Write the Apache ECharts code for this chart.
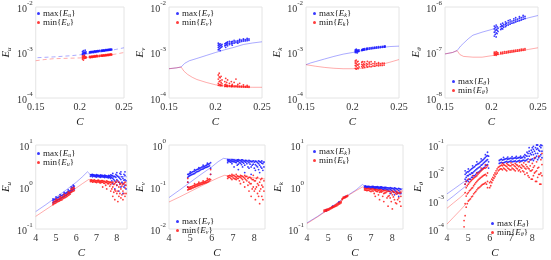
<!DOCTYPE html>
<html><head><meta charset="utf-8">
<script src="https://cdn.jsdelivr.net/npm/echarts@6/dist/echarts.min.js"></script>
<style>html,body{margin:0;padding:0;background:#fff}#c{width:551px;height:260px}</style>
</head><body><div id="c"></div>
<script>
// ---------- DATA ----------
// Panel 1: E_u vs C (small C)
const u1LineMax = [[0.152,7.7e-4],[0.17,8.0e-4],[0.19,8.5e-4],[0.2,8.9e-4],[0.21,9.4e-4],[0.22,1.0e-3],[0.23,1.08e-3],[0.24,1.16e-3],[0.25,1.27e-3]];
const u1LineMin = [[0.15,6.6e-4],[0.16,7.0e-4],[0.17,7.3e-4],[0.19,7.5e-4],[0.2,7.6e-4],[0.22,8.1e-4],[0.24,9.2e-4],[0.25,1.0e-3]];
const u1MaxCols = [[0.203,9.0e-4,9.6e-4,1.05e-3],[0.204,9.3e-4,1.0e-3,1.1e-3],[0.205,8.6e-4,9.5e-4,1.02e-3],[0.206,9.4e-4,1.0e-3,1.12e-3],[0.207,9.6e-4,1.03e-3],[0.211,9.8e-4,1.03e-3],[0.212,1.0e-3,1.05e-3],[0.213,9.9e-4,1.04e-3],[0.214,1.01e-3,1.06e-3],[0.215,1.0e-3,1.05e-3],[0.216,1.02e-3,1.07e-3],[0.217,1.03e-3,1.08e-3],[0.218,1.02e-3,1.07e-3],[0.219,1.04e-3,1.09e-3],[0.22,1.05e-3,1.1e-3],[0.221,1.04e-3,1.09e-3],[0.222,1.06e-3,1.11e-3],[0.224,1.06e-3,1.11e-3],[0.225,1.08e-3,1.13e-3],[0.226,1.07e-3,1.12e-3],[0.227,1.09e-3,1.14e-3],[0.228,1.08e-3,1.13e-3],[0.229,1.1e-3,1.15e-3],[0.23,1.1e-3,1.15e-3],[0.231,1.11e-3,1.16e-3],[0.232,1.12e-3,1.17e-3],[0.233,1.12e-3,1.17e-3],[0.234,1.13e-3,1.18e-3],[0.235,1.13e-3,1.18e-3],[0.236,1.14e-3,1.19e-3]];
const u1MinCols = [[0.203,7.2e-4,7.8e-4,8.4e-4],[0.204,6.8e-4,7.6e-4,8.2e-4],[0.205,7.4e-4,8.0e-4,8.8e-4],[0.206,7.5e-4,8.1e-4],[0.207,7.6e-4,8.0e-4],[0.211,7.8e-4,8.2e-4],[0.212,7.7e-4,8.1e-4],[0.213,7.9e-4,8.3e-4],[0.214,7.8e-4,8.2e-4],[0.215,8.0e-4,8.4e-4],[0.216,7.9e-4,8.3e-4],[0.217,8.1e-4,8.5e-4],[0.218,8.0e-4,8.4e-4],[0.219,8.2e-4,8.6e-4],[0.22,8.1e-4,8.5e-4],[0.222,8.2e-4,8.6e-4],[0.224,8.3e-4,8.7e-4],[0.225,8.4e-4,8.8e-4],[0.226,8.3e-4,8.7e-4],[0.227,8.5e-4,8.9e-4],[0.228,8.4e-4,8.8e-4],[0.229,8.6e-4,9.0e-4],[0.23,8.5e-4,8.9e-4],[0.231,8.7e-4,9.1e-4],[0.232,8.6e-4,9.0e-4],[0.233,8.8e-4,9.2e-4],[0.234,8.7e-4,9.1e-4],[0.235,8.9e-4,9.3e-4],[0.236,8.8e-4,9.2e-4]];

// Panel 2: E_v vs C
const v1LineMax = [[0.15,4.4e-4],[0.158,4.6e-4],[0.163,4.8e-4],[0.167,5.8e-4],[0.172,6.6e-4],[0.18,7.4e-4],[0.19,8.6e-4],[0.2,1.0e-3],[0.21,1.15e-3],[0.22,1.3e-3],[0.23,1.5e-3],[0.24,1.62e-3],[0.25,1.72e-3]];
const v1LineMin = [[0.15,4.4e-4],[0.158,4.6e-4],[0.163,4.8e-4],[0.166,3.9e-4],[0.17,3.3e-4],[0.175,2.85e-4],[0.18,2.55e-4],[0.19,2.2e-4],[0.2,1.95e-4],[0.21,1.85e-4],[0.22,1.78e-4],[0.23,1.74e-4],[0.24,1.72e-4],[0.25,1.72e-4]];
const v1MaxCols = [[0.203,1.15e-3,1.3e-3,1.45e-3,1.6e-3],[0.204,1.2e-3,1.35e-3,1.5e-3],[0.205,1.1e-3,1.25e-3,1.4e-3,1.55e-3],[0.206,1.3e-3,1.45e-3],[0.207,1.35e-3,1.5e-3],[0.21,1.4e-3,1.55e-3],[0.211,1.3e-3,1.45e-3,1.6e-3],[0.212,1.5e-3,1.65e-3],[0.213,1.4e-3,1.55e-3,1.7e-3],[0.215,1.5e-3,1.6e-3,1.75e-3],[0.217,1.55e-3,1.7e-3],[0.218,1.45e-3,1.6e-3,1.75e-3],[0.22,1.6e-3,1.72e-3,1.85e-3],[0.222,1.65e-3,1.78e-3],[0.224,1.6e-3,1.7e-3,1.82e-3],[0.226,1.7e-3,1.85e-3,1.95e-3],[0.228,1.75e-3,1.88e-3],[0.23,1.78e-3,1.9e-3,2.0e-3],[0.232,1.8e-3,1.92e-3],[0.234,1.82e-3,1.95e-3,2.05e-3],[0.236,1.85e-3,1.98e-3]];
const v1MinCols = [[0.203,1.9e-4,2.1e-4,2.6e-4,3.2e-4],[0.204,1.95e-4,2.3e-4,2.9e-4,3.5e-4],[0.205,1.85e-4,2.0e-4,2.4e-4,2.8e-4],[0.206,1.9e-4,2.2e-4,3.0e-4],[0.207,1.85e-4,2.05e-4,2.5e-4],[0.21,1.8e-4,1.95e-4,2.3e-4],[0.211,1.82e-4,2.0e-4,2.7e-4],[0.212,1.8e-4,1.9e-4,2.2e-4],[0.213,1.78e-4,1.9e-4,2.5e-4],[0.215,1.8e-4,1.88e-4,2.1e-4],[0.217,1.77e-4,1.87e-4,2.3e-4],[0.218,1.78e-4,1.86e-4,2.0e-4],[0.22,1.76e-4,1.85e-4,2.2e-4],[0.222,1.77e-4,1.85e-4,2.6e-4],[0.224,1.75e-4,1.84e-4,2.0e-4],[0.226,1.75e-4,1.83e-4,2.1e-4],[0.228,1.74e-4,1.82e-4],[0.23,1.74e-4,1.82e-4,1.95e-4],[0.232,1.73e-4,1.81e-4],[0.234,1.73e-4,1.8e-4,1.9e-4],[0.236,1.72e-4,1.8e-4]];

// Panel 3: E_k vs C
const k1LineMax = [[0.15,5.4e-4],[0.155,5.9e-4],[0.16,6.3e-4],[0.17,7.2e-4],[0.18,8.2e-4],[0.19,9.2e-4],[0.2,1.0e-3],[0.21,1.1e-3],[0.22,1.2e-3],[0.23,1.28e-3],[0.24,1.35e-3],[0.25,1.38e-3]];
const k1LineMin = [[0.15,5.4e-4],[0.16,5.0e-4],[0.17,4.7e-4],[0.18,4.5e-4],[0.19,4.4e-4],[0.2,4.4e-4],[0.21,4.5e-4],[0.22,4.8e-4],[0.23,5.4e-4],[0.24,6.1e-4],[0.25,7.0e-4]];
const k1MaxCols = [[0.203,1.0e-3,1.07e-3,1.14e-3],[0.204,1.02e-3,1.1e-3,1.18e-3],[0.205,0.98e-3,1.05e-3,1.12e-3],[0.206,1.04e-3,1.12e-3],[0.207,1.06e-3,1.14e-3],[0.21,1.1e-3,1.16e-3],[0.211,1.12e-3,1.18e-3],[0.212,1.13e-3,1.2e-3],[0.213,1.14e-3,1.21e-3],[0.215,1.16e-3,1.23e-3],[0.216,1.18e-3,1.24e-3],[0.218,1.19e-3,1.26e-3],[0.22,1.21e-3,1.28e-3],[0.222,1.22e-3,1.29e-3],[0.224,1.24e-3,1.31e-3],[0.226,1.25e-3,1.32e-3],[0.228,1.27e-3,1.34e-3],[0.23,1.28e-3,1.35e-3],[0.232,1.3e-3,1.37e-3],[0.234,1.31e-3,1.38e-3],[0.235,1.32e-3,1.39e-3]];
const k1MinCols = [[0.203,4.5e-4,5.2e-4,5.9e-4,6.5e-4],[0.204,4.3e-4,5.0e-4,5.7e-4,6.8e-4],[0.205,4.6e-4,5.4e-4,6.2e-4],[0.206,4.4e-4,5.3e-4,6.4e-4],[0.207,4.8e-4,5.6e-4],[0.21,4.9e-4,5.5e-4,6.1e-4],[0.211,4.6e-4,5.3e-4,6.3e-4],[0.212,5.0e-4,5.6e-4],[0.213,4.7e-4,5.4e-4,6.2e-4],[0.215,5.1e-4,5.7e-4],[0.216,4.8e-4,5.5e-4,6.4e-4],[0.218,5.0e-4,5.6e-4,6.1e-4],[0.22,4.9e-4,5.5e-4,6.3e-4],[0.222,5.1e-4,5.7e-4],[0.224,5.0e-4,5.6e-4,6.2e-4],[0.226,5.2e-4,5.7e-4],[0.228,5.1e-4,5.6e-4,6.0e-4],[0.23,5.2e-4,5.7e-4],[0.232,5.2e-4,5.8e-4],[0.234,5.3e-4,5.8e-4]];

// Panel 4: E_theta vs C
const t1LineMax = [[0.15,9.3e-8],[0.158,1.0e-7],[0.163,1.1e-7],[0.167,1.4e-7],[0.17,1.6e-7],[0.175,2.0e-7],[0.18,2.4e-7],[0.19,2.8e-7],[0.2,3.2e-7],[0.21,3.7e-7],[0.22,4.3e-7],[0.23,5.0e-7],[0.24,5.8e-7],[0.25,6.5e-7]];
const t1LineMin = [[0.15,9.3e-8],[0.158,1.0e-7],[0.163,1.1e-7],[0.166,9.0e-8],[0.17,8.2e-8],[0.18,7.9e-8],[0.19,7.9e-8],[0.2,8.5e-8],[0.21,9.2e-8],[0.22,1.0e-7],[0.23,1.08e-7],[0.24,1.17e-7],[0.25,1.27e-7]];
const t1MaxCols = [[0.203,2.3e-7,2.8e-7,3.3e-7,3.8e-7],[0.204,2.5e-7,3.0e-7,3.6e-7],[0.205,2.2e-7,2.7e-7,3.2e-7,4.0e-7],[0.206,2.6e-7,3.1e-7,3.7e-7],[0.207,2.9e-7,3.4e-7],[0.21,3.2e-7,3.7e-7,4.2e-7],[0.211,3.4e-7,3.9e-7],[0.212,3.3e-7,3.8e-7,4.4e-7],[0.213,3.6e-7,4.1e-7],[0.215,3.7e-7,4.2e-7,4.7e-7],[0.216,3.9e-7,4.4e-7],[0.218,4.0e-7,4.5e-7,5.0e-7],[0.22,4.2e-7,4.7e-7,5.2e-7],[0.222,4.4e-7,4.9e-7],[0.224,4.5e-7,5.0e-7,5.5e-7],[0.226,4.7e-7,5.2e-7,5.8e-7],[0.228,4.9e-7,5.4e-7],[0.23,5.0e-7,5.6e-7,6.1e-7],[0.232,5.2e-7,5.8e-7],[0.234,5.4e-7,6.0e-7,6.5e-7],[0.236,5.6e-7,6.2e-7]];
const t1MinCols = [[0.203,8.8e-8,9.5e-8,1.02e-7],[0.204,9.0e-8,9.8e-8],[0.205,8.7e-8,9.4e-8,1.05e-7],[0.206,9.2e-8,1.0e-7],[0.207,9.1e-8,9.8e-8],[0.21,9.4e-8,1.0e-7],[0.212,9.5e-8,1.02e-7],[0.214,9.7e-8,1.04e-7],[0.216,9.8e-8,1.05e-7],[0.218,1.0e-7,1.07e-7],[0.22,1.01e-7,1.08e-7],[0.222,1.03e-7,1.1e-7],[0.224,1.04e-7,1.11e-7],[0.226,1.06e-7,1.13e-7],[0.228,1.07e-7,1.14e-7],[0.23,1.09e-7,1.16e-7],[0.232,1.1e-7,1.18e-7],[0.234,1.12e-7,1.19e-7],[0.236,1.13e-7,1.21e-7]];

// Panel 5: E_u vs C (large C)
const u2LineMax = [[4,0.26],[4.5,0.38],[5,0.57],[5.5,0.85],[6,1.3],[6.3,1.75],[6.55,2.3],[6.62,2.55],[6.68,2.0],[7,1.9],[7.5,1.85],[8,1.8],[8.5,1.75]];
const u2LineMin = [[4,0.2],[4.5,0.29],[5,0.42],[5.5,0.62],[6,0.95],[6.3,1.2],[6.6,1.5],[7,1.42],[7.5,1.38],[8,1.3],[8.5,1.25]];
const u2MaxCols = [[4.85,0.42,0.47,0.52],[4.9,0.44,0.5],[4.95,0.45,0.51],[5.0,0.46,0.52,0.58],[5.05,0.48,0.55],[5.1,0.5,0.56],[5.15,0.51,0.58],[5.2,0.52,0.6,0.66],[5.25,0.55,0.62],[5.3,0.56,0.63],[5.35,0.58,0.66],[5.4,0.6,0.68,0.74],[5.45,0.62,0.7],[5.5,0.64,0.72],[5.55,0.67,0.75],[5.6,0.7,0.78,0.85],[5.65,0.72,0.8],[5.7,0.74,0.82],[5.75,0.8,0.9,1.0],[5.8,0.84,0.95],[5.85,0.88,1.0,1.1],[5.9,0.9,1.05],[6.7,1.8,1.95],[6.75,1.85,1.98],[6.8,1.75,1.9,2.0],[6.85,1.82,1.95],[6.9,1.8,1.92],[6.95,1.76,1.88],[7.0,1.72,1.85,1.98],[7.05,1.8,1.92],[7.1,1.78,1.9],[7.15,1.74,1.86],[7.2,1.7,1.82,1.95],[7.25,1.76,1.9],[7.3,1.75,1.88],[7.35,1.72,1.84],[7.4,1.68,1.8,1.92],[7.45,1.74,1.86],[7.5,1.7,1.85],[7.55,1.68,1.8],[7.6,1.65,1.78,1.9],[7.65,1.7,1.84],[7.7,1.6,1.75,1.95],[7.75,1.4,1.7,1.9],[7.8,1.2,1.6,1.85,2.1],[7.85,1.5,1.75],[7.9,0.9,1.4,1.8],[7.95,1.3,1.7,2.0],[8.0,1.1,1.5,1.9,2.2],[8.05,1.4,1.8],[8.1,0.8,1.3,1.7],[8.15,1.2,1.6,2.1],[8.2,1.0,1.5,2.0,2.3],[8.25,1.3,1.75],[8.3,0.7,1.2,1.6],[8.35,1.0,1.45,2.0],[8.4,1.1,1.5,1.9,2.3],[8.45,0.9,1.4]];
const u2MinCols = [[4.85,0.38,0.42],[4.9,0.4,0.45],[4.95,0.41,0.46],[5.0,0.42,0.47,0.52],[5.05,0.44,0.49],[5.1,0.45,0.5],[5.15,0.46,0.52],[5.2,0.48,0.54,0.6],[5.25,0.49,0.55],[5.3,0.5,0.57],[5.35,0.53,0.6],[5.4,0.55,0.62,0.68],[5.45,0.56,0.63],[5.5,0.58,0.65],[5.55,0.6,0.68],[5.6,0.63,0.7,0.76],[5.65,0.65,0.72],[5.7,0.68,0.75],[5.75,0.75,0.85,0.92],[5.8,0.78,0.88],[5.85,0.8,0.9,0.98],[5.9,0.82,0.95],[6.7,1.35,1.45],[6.75,1.38,1.48],[6.8,1.3,1.42],[6.85,1.34,1.44],[6.9,1.35,1.48],[6.95,1.3,1.4],[7.0,1.28,1.4],[7.05,1.33,1.44],[7.1,1.32,1.45],[7.15,1.27,1.38],[7.2,1.25,1.38],[7.25,1.3,1.42],[7.3,1.0,1.3,1.42],[7.35,1.24,1.36],[7.4,1.22,1.36],[7.45,1.1,1.3],[7.5,0.9,1.28,1.4],[7.55,1.2,1.34],[7.6,1.2,1.32],[7.65,1.05,1.28],[7.7,0.8,1.15,1.3],[7.75,0.9,1.25],[7.8,0.6,1.0,1.3],[7.85,0.75,1.15],[7.9,0.5,0.85,1.2],[7.95,0.8,1.3],[8.0,0.7,1.1,1.4],[8.05,0.45,0.8],[8.1,0.6,1.0,1.3],[8.15,0.7,1.15],[8.2,0.55,0.9,1.2],[8.25,0.65,1.05],[8.3,0.5,0.8,1.15],[8.35,0.7,1.2],[8.4,0.6,0.95,1.3],[8.45,0.7,1.1]];

// Panel 6: E_v vs C (large C)
const v2LineMax = [[4,0.056],[4.5,0.085],[5,0.13],[5.5,0.2],[6,0.3],[6.3,0.4],[6.55,0.48],[6.7,0.47],[7,0.46],[7.5,0.44],[8,0.42],[8.5,0.4]];
const v2LineMin = [[4,0.044],[4.5,0.058],[5,0.078],[5.5,0.105],[6,0.14],[6.3,0.165],[6.6,0.19],[7,0.18],[7.5,0.175],[8,0.165],[8.5,0.155]];
const v2MaxCols = [[4.88,0.1,0.13,0.17,0.2],[4.92,0.18,0.2],[4.96,0.185,0.21],[5.0,0.19,0.21,0.23],[5.05,0.195,0.22],[5.1,0.2,0.23],[5.15,0.205,0.235],[5.2,0.21,0.24,0.26],[5.25,0.22,0.25],[5.3,0.23,0.26],[5.35,0.235,0.265],[5.4,0.24,0.27,0.29],[5.45,0.25,0.28],[5.5,0.26,0.29],[5.55,0.265,0.3],[5.6,0.27,0.3,0.33],[5.65,0.28,0.31],[5.7,0.29,0.32],[5.75,0.295,0.33],[5.8,0.3,0.34,0.37],[5.85,0.31,0.35],[5.9,0.32,0.36],[5.95,0.2,0.28,0.38],[6.75,0.38,0.42,0.45],[6.8,0.41,0.44],[6.85,0.4,0.44],[6.9,0.39,0.43],[6.95,0.36,0.41,0.45],[7.0,0.4,0.44],[7.05,0.3,0.4,0.44],[7.1,0.39,0.43],[7.15,0.38,0.42],[7.2,0.33,0.41,0.44],[7.25,0.26,0.35,0.41,0.45],[7.3,0.38,0.43],[7.35,0.37,0.42],[7.4,0.34,0.4,0.44],[7.45,0.3,0.39,0.44],[7.5,0.37,0.42],[7.55,0.22,0.33,0.41],[7.6,0.39,0.43],[7.65,0.36,0.42],[7.7,0.3,0.4],[7.75,0.28,0.38,0.43],[7.8,0.35,0.41],[7.85,0.2,0.3,0.4],[7.9,0.33,0.4],[7.95,0.35,0.42],[8.0,0.28,0.39],[8.05,0.25,0.34,0.41],[8.1,0.32,0.4],[8.15,0.3,0.38],[8.2,0.26,0.36,0.42],[8.25,0.22,0.33,0.4],[8.3,0.3,0.39],[8.35,0.28,0.37,0.42],[8.4,0.25,0.36],[8.45,0.3,0.39]];
const v2MinCols = [[4.88,0.085,0.1,0.13,0.16],[4.92,0.088,0.095],[4.96,0.089,0.098],[5.0,0.09,0.1],[5.05,0.092,0.102],[5.1,0.095,0.105],[5.15,0.097,0.108],[5.2,0.1,0.11,0.12],[5.25,0.102,0.112],[5.3,0.105,0.115],[5.35,0.107,0.118],[5.4,0.11,0.12,0.13],[5.45,0.112,0.122],[5.5,0.115,0.125],[5.55,0.117,0.128],[5.6,0.12,0.13,0.14],[5.65,0.122,0.132],[5.7,0.125,0.135],[5.75,0.127,0.14],[5.8,0.13,0.145,0.16],[5.85,0.135,0.15],[5.9,0.14,0.155],[5.95,0.15,0.2,0.26],[6.75,0.16,0.18],[6.8,0.17,0.185],[6.85,0.17,0.19],[6.9,0.16,0.185],[6.95,0.15,0.18,0.2],[7.0,0.165,0.19],[7.05,0.16,0.19],[7.1,0.155,0.18],[7.15,0.15,0.17,0.2],[7.2,0.16,0.185],[7.25,0.16,0.18],[7.3,0.14,0.175],[7.35,0.12,0.17,0.19],[7.4,0.16,0.185],[7.45,0.15,0.18],[7.5,0.13,0.17],[7.55,0.1,0.16,0.19],[7.6,0.15,0.18],[7.65,0.14,0.18],[7.7,0.11,0.16],[7.75,0.08,0.13,0.17],[7.8,0.12,0.17],[7.85,0.06,0.12,0.16],[7.9,0.09,0.15],[7.95,0.1,0.15,0.19],[8.0,0.08,0.14],[8.05,0.05,0.09,0.14],[8.1,0.1,0.16],[8.15,0.07,0.12,0.17],[8.2,0.06,0.11],[8.25,0.04,0.08,0.13],[8.3,0.09,0.15],[8.35,0.06,0.11,0.16],[8.4,0.05,0.1],[8.45,0.08,0.14]];

// Panel 7: E_k vs C (large C)
const k2LineMax = [[4,0.14],[4.5,0.2],[5,0.3],[5.5,0.45],[6,0.68],[6.3,0.85],[6.6,1.15],[6.7,1.05],[7,1.02],[7.5,1.0],[8,0.95],[8.5,0.9]];
const k2LineMin = [[4,0.135],[4.5,0.195],[5,0.29],[5.5,0.44],[6,0.66],[6.3,0.82],[6.6,1.0],[7,0.92],[7.5,0.88],[8,0.85],[8.5,0.8]];
const k2MaxCols = [[4.9,0.27,0.29],[5.2,0.33,0.35],[5.5,0.42,0.44],[5.8,0.58,0.6],[6.7,0.98,1.05],[6.75,1.0,1.06],[6.8,0.95,1.02],[6.85,0.98,1.04],[6.9,0.97,1.04],[6.95,0.95,1.02],[7.0,0.94,1.01],[7.05,0.97,1.03],[7.1,0.96,1.03],[7.15,0.93,1.0],[7.2,0.92,1.0],[7.25,0.95,1.01],[7.3,0.95,1.02],[7.35,0.91,0.99],[7.4,0.9,0.98],[7.45,0.93,1.0],[7.5,0.93,1.0],[7.55,0.89,0.97],[7.6,0.88,0.96],[7.65,0.91,0.98],[7.7,0.9,0.98],[7.75,0.86,0.95],[7.8,0.85,0.95],[7.85,0.8,0.92],[7.9,0.7,0.88,0.97],[7.95,0.84,0.94],[8.0,0.8,0.93],[8.05,0.75,0.9],[8.1,0.65,0.85,0.95],[8.15,0.8,0.92],[8.2,0.75,0.9],[8.25,0.7,0.88],[8.3,0.6,0.82,0.93],[8.35,0.75,0.9],[8.4,0.7,0.88]];
const k2MinCols = [[4.8,0.26,0.28],[4.85,0.265,0.285],[4.9,0.27,0.29],[4.95,0.275,0.295],[5.0,0.28,0.3],[5.05,0.29,0.31],[5.1,0.3,0.32],[5.15,0.31,0.33],[5.2,0.32,0.34],[5.25,0.33,0.35],[5.3,0.34,0.36],[5.35,0.35,0.375],[5.4,0.36,0.39],[5.45,0.375,0.405],[5.5,0.39,0.42],[5.55,0.405,0.435],[5.6,0.42,0.45],[5.65,0.5,0.53],[5.7,0.54,0.57],[5.75,0.55,0.58],[5.8,0.56,0.59],[5.85,0.58,0.61],[5.9,0.6,0.63],[6.7,0.85,0.92],[6.75,0.84,0.91],[6.8,0.82,0.9],[6.85,0.83,0.91],[6.9,0.84,0.92],[6.95,0.8,0.89],[7.0,0.78,0.88],[7.05,0.81,0.9],[7.1,0.8,0.9],[7.15,0.7,0.86],[7.2,0.6,0.82,0.88],[7.25,0.79,0.87],[7.3,0.78,0.86],[7.35,0.65,0.83],[7.4,0.5,0.75,0.85],[7.45,0.77,0.85],[7.5,0.76,0.84],[7.55,0.6,0.8],[7.6,0.45,0.7,0.82],[7.65,0.72,0.82],[7.7,0.74,0.83],[7.75,0.55,0.78],[7.8,0.35,0.6,0.8],[7.85,0.62,0.79],[7.9,0.55,0.78],[7.95,0.45,0.72],[8.0,0.3,0.65,0.8],[8.05,0.58,0.77],[8.1,0.5,0.75],[8.15,0.42,0.7],[8.2,0.4,0.68,0.78],[8.25,0.5,0.74],[8.3,0.55,0.72],[8.35,0.45,0.7],[8.4,0.35,0.6,0.75]];

// Panel 8: E_theta vs C (large C)
const t2LineMaxA = [[4,1.8e-3],[4.3,2.6e-3],[4.6,3.8e-3],[4.9,5.5e-3]];
const t2LineMaxB = [[4,1.0e-3],[4.3,1.5e-3],[4.6,2.3e-3],[4.9,3.5e-3]];
const t2LineMinA = [[4,5.5e-4],[4.3,8.5e-4],[4.6,1.3e-3],[4.9,2.1e-3]];
const t2LineMinB = [[4,1.5e-4],[4.3,2.6e-4],[4.6,4.5e-4],[4.9,8.0e-4]];
const t2MaxCols = [[4.85,4e-3,6e-3,9e-3,1.2e-2],[4.9,5e-3,7e-3,1e-2],[4.95,5.5e-3,8e-3,1.1e-2],[5.0,5e-3,8e-3,1.1e-2,1.4e-2],[5.05,6e-3,9e-3,1.2e-2],[5.1,6e-3,9e-3,1.3e-2],[5.15,7e-3,1e-2,1.4e-2],[5.2,7e-3,1e-2,1.5e-2,1.8e-2],[5.25,8e-3,1.1e-2,1.6e-2],[5.3,8e-3,1.2e-2,1.7e-2],[5.35,9e-3,1.3e-2,1.9e-2],[5.4,1e-2,1.4e-2,2e-2,2.5e-2],[5.45,1.05e-2,1.5e-2,2.1e-2],[5.5,1.1e-2,1.6e-2,2.2e-2],[5.55,1.2e-2,1.7e-2,2.4e-2],[5.6,1.3e-2,1.9e-2,2.6e-2,3.2e-2],[5.65,1.4e-2,2e-2,2.8e-2],[5.7,1.5e-2,2.2e-2,3e-2],[5.75,1.6e-2,2.4e-2,3.3e-2],[5.8,1.8e-2,2.6e-2,3.6e-2,4.5e-2],[5.85,1.9e-2,2.8e-2,4e-2],[5.9,2e-2,3e-2,4.2e-2,5.5e-2],[5.95,1.5e-2,2.5e-2,4e-2],[6.45,2.2e-2,2.8e-2],[6.5,2.3e-2,3e-2],[6.55,2.4e-2,3.1e-2],[6.6,2.3e-2,2.9e-2],[6.65,2.3e-2,3e-2,3.6e-2],[6.7,2.4e-2,3.1e-2],[6.75,2.5e-2,3.2e-2],[6.8,2.6e-2,3.3e-2],[6.85,2.4e-2,3.1e-2,3.7e-2],[6.9,2.5e-2,3.2e-2],[6.95,2.6e-2,3.3e-2],[7.0,2.7e-2,3.4e-2],[7.05,2.5e-2,3.2e-2,3.8e-2],[7.1,2.6e-2,3.3e-2],[7.15,2.6e-2,3.4e-2],[7.2,2.7e-2,3.5e-2],[7.25,2.5e-2,3.3e-2,3.9e-2],[7.3,2.6e-2,3.4e-2],[7.35,2.7e-2,3.5e-2],[7.4,2.8e-2,3.6e-2],[7.45,2.6e-2,3.4e-2,4e-2],[7.5,2.7e-2,3.5e-2],[7.55,2.8e-2,3.6e-2],[7.6,2.9e-2,4e-2],[7.65,2.7e-2,3.5e-2,4.5e-2],[7.7,2.8e-2,4.2e-2],[7.75,3e-2,4e-2,5.5e-2],[7.8,3.2e-2,5e-2],[7.85,2.5e-2,4e-2,6e-2,8e-2],[7.9,3e-2,5e-2],[7.95,3e-2,4.5e-2,6.5e-2],[8.0,3.2e-2,5.5e-2,8e-2],[8.05,2.8e-2,4.5e-2,7e-2,9e-2],[8.1,3.3e-2,6e-2],[8.15,3.5e-2,5e-2,8e-2],[8.2,4e-2,7e-2,1e-1],[8.25,3e-2,5e-2,7.5e-2,1e-1],[8.3,3.5e-2,6.5e-2],[8.35,4e-2,6e-2,9e-2],[8.4,4.5e-2,8e-2,1e-1],[8.45,3.5e-2,6e-2,9.5e-2]];
const t2MinCols = [[4.8,1.2e-4,2e-4],[4.85,3e-4,8e-4,2e-3,4e-3],[4.9,6e-4,1.5e-3,3e-3,5e-3],[4.95,8e-4,1.8e-3,3.5e-3],[5.0,1e-3,2e-3,4e-3,6e-3],[5.05,1.1e-3,2.3e-3,4.5e-3],[5.1,1.2e-3,2.5e-3,5e-3],[5.15,1.4e-3,2.8e-3,5.5e-3],[5.2,1.5e-3,3e-3,6e-3,8e-3],[5.25,1.8e-3,3.5e-3,6.5e-3],[5.3,2e-3,4e-3,7e-3],[5.35,2.2e-3,4.5e-3,7.5e-3],[5.4,2.5e-3,5e-3,8e-3,1e-2],[5.45,2.8e-3,5.5e-3,9e-3],[5.5,3e-3,6e-3,1e-2],[5.55,3.2e-3,6.5e-3,1.1e-2],[5.6,3.5e-3,7e-3,1.2e-2,1.5e-2],[5.65,3.8e-3,7.5e-3,1.3e-2],[5.7,4e-3,8e-3,1.4e-2],[5.75,4.2e-3,8.5e-3,1.5e-2],[5.8,4.5e-3,9e-3,1.5e-2,2e-2],[5.85,4e-3,8e-3,1.6e-2],[5.9,3e-3,5e-3,1e-2,1.8e-2],[6.0,3e-3,4.5e-3],[6.05,3.5e-3,5e-3],[6.1,4.5e-3,6e-3],[6.15,5.5e-3,7e-3],[6.2,6.5e-3,8.5e-3],[6.25,7.5e-3,1e-2],[6.3,9e-3,1.2e-2],[6.35,1e-2,1.4e-2],[6.4,1.2e-2,1.6e-2],[6.45,1.3e-2,1.7e-2],[6.5,1.4e-2,1.8e-2],[6.55,1.4e-2,1.9e-2],[6.6,1.3e-2,1.8e-2,2.2e-2],[6.65,1.5e-2,2e-2],[6.7,1.4e-2,1.9e-2],[6.75,1.3e-2,1.8e-2],[6.8,1.2e-2,1.7e-2,2.2e-2],[6.85,1.5e-2,2e-2],[6.9,1.4e-2,1.9e-2],[6.95,1.3e-2,1.8e-2],[7.0,1.3e-2,1.8e-2,2.3e-2],[7.05,1.5e-2,2e-2],[7.1,1.4e-2,2e-2],[7.15,1.3e-2,1.8e-2],[7.2,1.2e-2,1.7e-2,2.2e-2],[7.25,1.5e-2,2e-2],[7.3,1.4e-2,1.9e-2],[7.35,1.2e-2,1.7e-2],[7.4,1.3e-2,1.8e-2,2.4e-2],[7.45,1.1e-2,1.6e-2],[7.5,1.5e-2,2e-2],[7.55,1.2e-2,1.8e-2],[7.6,1.1e-2,1.7e-2,2.3e-2],[7.65,9e-3,1.5e-2],[7.7,1.4e-2,2e-2],[7.75,1e-2,1.7e-2],[7.8,8e-3,1.5e-2,2.5e-2],[7.85,7e-3,1.4e-2],[7.9,1.2e-2,1.8e-2,3e-2],[7.95,6e-3,1.2e-2],[8.0,6e-3,1.3e-2,2.2e-2],[8.05,8e-3,1.6e-2],[8.1,1e-2,1.8e-2,3.5e-2],[8.15,5e-3,1.1e-2],[8.2,5e-3,1.2e-2,2.5e-2],[8.25,7e-3,1.5e-2],[8.3,9e-3,1.6e-2,4e-2],[8.35,4e-3,9e-3],[8.4,4e-3,1e-2,3e-2],[8.45,8e-3,2e-2,5e-2]];

// Axis ranges / tick labels
const xSmall = {min:0.15, max:0.25, interval:0.05};
const xLarge = {min:4, max:8.5, interval:1};
const yRanges = [[1e-4,1e-2],[1e-4,1e-2],[1e-4,1e-2],[1e-8,1e-6],[1e-1,1e1],[1e-2,1e0],[1e-1,1e1],[1e-4,1e-1]];
const subs = ['u','v','k','θ','u','v','k','θ'];

// ---------- LAYOUT / STYLE ----------
const SERIF = "'Liberation Serif','DejaVu Serif',serif";
const BLUE = '#1515ff', RED = '#ff1a1a';
const layout = [
  {g:[31,5,93,93], lg:[37,9]},
  {g:[169,5,93,93], lg:[176,9]},
  {g:[306,5,93,93], lg:[313,9]},
  {g:[445,5,93,93], lg:[452,77]},
  {g:[31,145,96,93], lg:[37,149]},
  {g:[169,145,96,93], lg:[176,217]},
  {g:[307,145,96,93], lg:[313,147]},
  {g:[447,145,96,93], lg:[491,219]}
];
const panelData = [
  {lmax:[u1LineMax], lmin:[u1LineMin], max:u1MaxCols, min:u1MinCols, x:xSmall, dashed:true},
  {lmax:[v1LineMax], lmin:[v1LineMin], max:v1MaxCols, min:v1MinCols, x:xSmall},
  {lmax:[k1LineMax], lmin:[k1LineMin], max:k1MaxCols, min:k1MinCols, x:xSmall},
  {lmax:[t1LineMax], lmin:[t1LineMin], max:t1MaxCols, min:t1MinCols, x:xSmall},
  {lmax:[u2LineMax], lmin:[u2LineMin], max:u2MaxCols, min:u2MinCols, x:xLarge},
  {lmax:[v2LineMax], lmin:[v2LineMin], max:v2MaxCols, min:v2MinCols, x:xLarge},
  {lmax:[k2LineMax], lmin:[k2LineMin], max:k2MaxCols, min:k2MinCols, x:xLarge},
  {lmax:[t2LineMaxA,t2LineMaxB], lmin:[t2LineMinA,t2LineMinB], max:t2MaxCols, min:t2MinCols, x:xLarge}
];

function flat(cols){const o=[];cols.forEach(c=>{for(let i=1;i<c.length;i++)o.push([c[0],c[i]]);});return o;}
const richTick = {b:{fontSize:10,fontFamily:SERIF,color:'#333',lineHeight:14,verticalAlign:'bottom'},
                  s:{fontSize:7,fontFamily:SERIF,color:'#333',lineHeight:14,verticalAlign:'top'}};
const richName = {i:{fontSize:11,fontStyle:'italic',fontFamily:SERIF,color:'#222',lineHeight:13,verticalAlign:'middle'},
                  s:{fontSize:7,fontStyle:'italic',fontFamily:SERIF,color:'#222',lineHeight:13,verticalAlign:'bottom',padding:[4,0,0,0]}};
const richLeg = {i:{fontSize:9,fontStyle:'italic',fontFamily:SERIF,color:'#222',lineHeight:9,verticalAlign:'middle'},
                 s:{fontSize:6,fontStyle:'italic',fontFamily:SERIF,color:'#222',lineHeight:9,verticalAlign:'bottom'}};

const grid=[], xAxis=[], yAxis=[], series=[], legend=[];
layout.forEach((L,i)=>{
  const P = panelData[i], s = subs[i];
  grid.push({left:L.g[0], top:L.g[1], width:L.g[2], height:L.g[3], show:true, borderColor:'#e4e4e4', borderWidth:1, backgroundColor:'transparent'});
  xAxis.push({gridIndex:i, type:'value', min:P.x.min, max:P.x.max, interval:P.x.interval,
    axisLine:{show:false}, axisTick:{show:false}, splitLine:{show:false},
    axisLabel:{margin:4, fontSize:10, fontFamily:SERIF, color:'#333',
      formatter:v=>{const r=Math.round(v*100)/100; if(P.x===xLarge && Math.abs(r-Math.round(r))>1e-6) return ''; return String(r);}},
    name:'{i|C}', nameLocation:'middle', nameGap:18, nameTextStyle:{rich:richName}});
  yAxis.push({gridIndex:i, type:'log', logBase:10, min:yRanges[i][0], max:yRanges[i][1],
    axisLine:{show:false}, axisTick:{show:false}, splitLine:{show:false}, minorTick:{show:false},
    axisLabel:{margin:3, formatter:v=>{const l=Math.log10(v), e=Math.round(l); if(Math.abs(l-e)>1e-6) return ''; return '{b|10}{s|'+e+'}';}, rich:richTick},
    name:'{i|E}{s|'+s+'}', nameLocation:'middle', nameGap:20, nameRotate:90, nameTextStyle:{rich:richName}});
  const nMax='max{E_'+s+'}', nMin='min{E_'+s+'}';
  P.lmax.forEach(d=>series.push({type:'line', xAxisIndex:i, yAxisIndex:i, data:d, showSymbol:false, silent:true, z:1,
     lineStyle:{color:BLUE, width:0.8, opacity:0.45, type:P.dashed?[4,3]:'solid'}}));
  P.lmin.forEach(d=>series.push({type:'line', xAxisIndex:i, yAxisIndex:i, data:d, showSymbol:false, silent:true, z:1,
     lineStyle:{color:RED, width:0.8, opacity:0.45, type:P.dashed?[4,3]:'solid'}}));
  series.push({name:nMax, type:'scatter', xAxisIndex:i, yAxisIndex:i, data:flat(P.max), symbolSize:1.8, itemStyle:{color:BLUE, opacity:0.85}, silent:true, z:2});
  series.push({name:nMin, type:'scatter', xAxisIndex:i, yAxisIndex:i, data:flat(P.min), symbolSize:1.8, itemStyle:{color:RED, opacity:0.85}, silent:true, z:3});
  legend.push({left:L.lg[0], top:L.lg[1], orient:'vertical', itemWidth:3, itemHeight:3, itemGap:0, icon:'circle', selectedMode:false, padding:0,
    data:[nMax,nMin], textStyle:{fontSize:9, lineHeight:9, fontFamily:SERIF, color:'#222', rich:richLeg, padding:[0,0,0,-2]},
    formatter:n=>n.slice(0,3)+'{'+'{i|E}{s|'+s+'}'+'}'});
});
const chart = echarts.init(document.getElementById('c'));
chart.setOption({animation:false, backgroundColor:'#fff', grid, xAxis, yAxis, series, legend});
</script></body></html>
